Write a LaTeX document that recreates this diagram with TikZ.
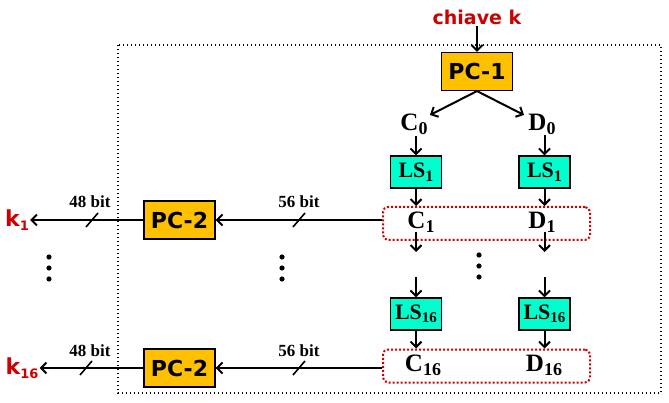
\documentclass[tikz,border=0pt]{standalone}
\usepackage{fontspec}
\setmainfont{Liberation Serif}
\newfontfamily\comicfont{DejaVu Sans}
\usetikzlibrary{positioning, arrows.meta}
\definecolor{keyRed}{RGB}{204, 0, 0}
\definecolor{pcFill}{RGB}{255, 192, 0}
\definecolor{lsFill}{RGB}{0, 255, 204}
\newcommand{\sublab}[3]{#1\raisebox{-0.35ex}{\fontsize{#3}{#3}\selectfont #2}}
\tikzset{
    pc_box/.style={
        draw=black,
        line width=1.2pt,
        fill=pcFill,
        minimum width=71pt,
        minimum height=38pt,
        inner sep=0pt,
        font=\comicfont\bfseries\fontsize{22}{22}\selectfont
    },
    ls_box/.style={
        draw=black,
        line width=1.2pt,
        fill=lsFill,
        minimum width=51pt,
        minimum height=32pt,
        inner sep=0pt,
        font=\bfseries\fontsize{22}{22}\selectfont
    },
    half_lab/.style={
        inner sep=1pt,
        font=\bfseries\fontsize{25}{25}\selectfont
    },
    key_lab/.style={
        inner sep=1pt,
        text=keyRed,
        font=\comicfont\bfseries\fontsize{19}{19}\selectfont
    },
    bit_lab/.style={
        inner sep=0pt,
        font=\bfseries\fontsize{17}{17}\selectfont
    },
    reg_box/.style={
        draw=keyRed,
        line width=2pt,
        dash pattern=on 2pt off 2pt,
        rounded corners=5pt,
        minimum width=207pt,
        minimum height=33pt
    },
    flow/.style={
        -{Straight Barb[length=5.5pt, width=11pt]},
        line width=2pt,
        draw=black
    },
    tick_mark/.style={
        line width=1.6pt
    }
}

\begin{document}
\begin{tikzpicture}[x=1pt, y=-1pt]
    \useasboundingbox (0,0) rectangle (669,403);
    % dotted frame
    \draw[line width=1.4pt, dash pattern=on 1.4pt off 2.6pt] (118,45) rectangle (661,393);

    % key schedule, upper part
    \node[key_lab] (key) at (477,17) {chiave k};
    \node[pc_box] (pc1) at (477,71.5) {PC-1};
    \node[half_lab] (c0) at (414,124) {\sublab{C}{0}{18}};
    \node[half_lab] (d0) at (542,124) {\sublab{D}{0}{18}};
    \node[ls_box] (ls1l) at (416,172) {\sublab{LS}{1}{16}};
    \node[ls_box] (ls1r) at (544.5,172) {\sublab{LS}{1}{16}};
    \node[reg_box] (reg1) at (486.5,223.5) {};
    \node[half_lab] (c1) at (421,222) {\sublab{C}{1}{18}};
    \node[half_lab] (d1) at (542,222) {\sublab{D}{1}{18}};

    % lower part
    \node[ls_box] (ls16l) at (416,314) {\sublab{LS}{16}{15}};
    \node[ls_box] (ls16r) at (544.5,314) {\sublab{LS}{16}{15}};
    \node[reg_box] (reg16) at (486.5,366) {};
    \node[half_lab] (c16) at (423,365) {\sublab{C}{16}{18}};
    \node[half_lab] (d16) at (544,365) {\sublab{D}{16}{18}};

    % output side
    \node[pc_box] (pc2a) at (179.5,220) {PC-2};
    \node[pc_box] (pc2b) at (179.5,368) {PC-2};
    \node[key_lab, font=\comicfont\bfseries\fontsize{22}{22}\selectfont] (k1) at (17,220) {\sublab{k}{1}{13}};
    \node[key_lab, font=\comicfont\bfseries\fontsize{22}{22}\selectfont] (k16) at (22,368) {\sublab{k}{16}{13}};
    \node[bit_lab] (b56a) at (299,202) {56 bit};
    \node[bit_lab] (b48a) at (90,202) {48 bit};
    \node[bit_lab] (b56b) at (299,351) {56 bit};
    \node[bit_lab] (b48b) at (90,351) {48 bit};

    % free ends of the gap arrows
    \coordinate (gl0) at (416,232);
    \coordinate (gl1) at (416,252);
    \coordinate (gl2) at (416,277);
    \coordinate (gr0) at (544.5,232);
    \coordinate (gr1) at (544.5,252);
    \coordinate (gr2) at (544.5,277);

    \draw[flow] (key) -- (pc1.north);
    \draw[flow] (pc1.south) -- (430,115);
    \draw[flow] (pc1.south) -- (524,115);
    \draw[flow] (c0.south -| ls1l) -- (ls1l.north);
    \draw[flow] (d0.south -| ls1r) -- (ls1r.north);
    \draw[flow] (ls1l.south) -- (ls1l.south |- reg1.north);
    \draw[flow] (ls1r.south) -- (ls1r.south |- reg1.north);
    \draw[flow] (gl0) -- (gl1);
    \draw[flow] (gr0) -- (gr1);
    \draw[flow] (gl2) -- (ls16l.north);
    \draw[flow] (gr2) -- (ls16r.north);
    \draw[flow] (ls16l.south) -- (ls16l.south |- reg16.north);
    \draw[flow] (ls16r.south) -- (ls16r.south |- reg16.north);

    \draw[flow] (reg1.west |- pc2a) -- (pc2a.east);
    \draw[flow] (pc2a.west) -- (k1.east |- pc2a);
    \draw[flow] (reg16.west |- pc2b) -- (pc2b.east);
    \draw[flow] (pc2b.west) -- (k16.east |- pc2b);

    % bit-width ticks
    \foreach \tx/\ty in {299/220, 92/220, 299/368, 86/368}
        \draw[tick_mark] (\tx-6,\ty+7) -- (\tx+6,\ty-7);

    % ellipsis dots
    \foreach \dx/\dy in {479/255, 49/257, 282/257}
        \foreach \k in {0,11,22}
            \fill (\dx,\dy+\k) circle (2.6);
\end{tikzpicture}
\end{document}
